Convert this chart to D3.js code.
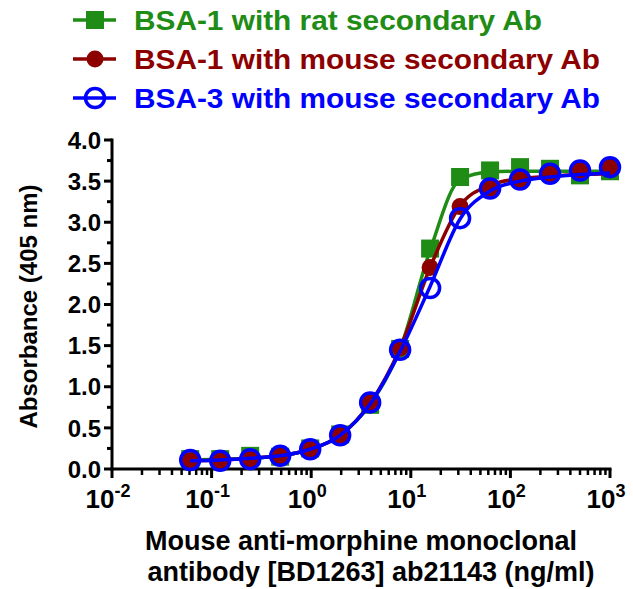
<!DOCTYPE html>
<html>
<head>
<meta charset="utf-8">
<script src="https://cdn.jsdelivr.net/npm/d3@7/dist/d3.min.js"></script>
<style>
  html, body { margin: 0; padding: 0; background: #fff; }
  svg { display: block; }
  text { font-family: "Liberation Sans", Arial, Helvetica, sans-serif; font-weight: bold; }
</style>
</head>
<body>
<svg id="chart" width="633" height="589"></svg>
<script>
// Antibody concentrations (ng/ml), two-fold dilution series
const concentrations = [0.061, 0.122, 0.244, 0.488, 0.977, 1.953, 3.906, 7.8125, 15.625, 31.25, 62.5, 125, 250, 500, 1000];

// Measured absorbance at 405 nm
const bsa1Rat   = [0.12, 0.12, 0.16, 0.15, 0.25, 0.42, 0.78, 1.46, 2.68, 3.55, 3.63, 3.67, 3.65, 3.57, 3.62];
const bsa1Mouse = [0.10, 0.10, 0.12, 0.16, 0.24, 0.41, 0.81, 1.47, 2.45, 3.19, 3.41, 3.52, 3.59, 3.63, 3.67];
const bsa3Mouse = [0.11, 0.10, 0.12, 0.16, 0.24, 0.41, 0.81, 1.45, 2.20, 3.05, 3.41, 3.52, 3.59, 3.63, 3.67];

// Fitted response curves, evaluated at the same concentrations
const fitRat    = [0.11, 0.12, 0.13, 0.16, 0.24, 0.41, 0.79, 1.46, 2.66, 3.52, 3.61, 3.62, 3.62, 3.62, 3.62];
const fitMouse1 = [0.10, 0.11, 0.13, 0.16, 0.24, 0.41, 0.80, 1.47, 2.45, 3.20, 3.45, 3.53, 3.56, 3.58, 3.59];
const fitMouse3 = [0.10, 0.11, 0.13, 0.16, 0.24, 0.41, 0.79, 1.43, 2.22, 3.04, 3.38, 3.50, 3.55, 3.58, 3.60];

const seriesNames = ["BSA-1 with rat secondary Ab", "BSA-1 with mouse secondary Ab", "BSA-3 with mouse secondary Ab"];
const seriesColors = ["#1f8c16", "#8c0000", "#0000ff"];

const xDomain = [0.01, 1000];
const yDomain = [0, 4];
const yTicks = [0, 0.5, 1, 1.5, 2, 2.5, 3, 3.5, 4];
const xExponents = [-2, -1, 0, 1, 2, 3];

const svg = d3.select("#chart");

const x = d3.scaleLog().domain(xDomain).range([112, 610]);
const y = d3.scaleLinear().domain(yDomain).range([469, 140]);

// ---- axes ----
const axisColor = "#000";

// Y axis: major ticks every 0.5, minor ticks halfway between
const yMinor = d3.range(0.25, 4, 0.5);
const gy = svg.append("g").attr("transform", `translate(${x.range()[0]},0)`);
gy.append("line").attr("x1", 0).attr("x2", 0).attr("y1", y(0) + 1.5).attr("y2", y(4) - 1.5)
  .attr("stroke", axisColor).attr("stroke-width", 3);
gy.selectAll("line.major").data(yTicks).join("line").attr("class", "major")
  .attr("x1", -8).attr("x2", 0).attr("y1", d => y(d)).attr("y2", d => y(d))
  .attr("stroke", axisColor).attr("stroke-width", 3);
gy.selectAll("line.minor").data(yMinor).join("line").attr("class", "minor")
  .attr("x1", -5).attr("x2", 0).attr("y1", d => y(d)).attr("y2", d => y(d))
  .attr("stroke", axisColor).attr("stroke-width", 3);
gy.selectAll("text").data(yTicks).join("text")
  .attr("x", -11).attr("y", d => y(d)).attr("dy", "0.36em")
  .attr("text-anchor", "end").attr("font-size", 24).attr("fill", "#000")
  .text(d => d3.format(".1f")(d));

// X axis: decades with 2..9 minor ticks
const xMinor = [];
xExponents.slice(0, -1).forEach(e => { for (let k = 2; k <= 9; k++) xMinor.push(k * Math.pow(10, e)); });
const gx = svg.append("g").attr("transform", `translate(0,${y(0)})`);
gx.append("line").attr("x1", x.range()[0] - 1.5).attr("x2", x.range()[1] + 1.5).attr("y1", 0).attr("y2", 0)
  .attr("stroke", axisColor).attr("stroke-width", 3);
gx.selectAll("line.major").data(xExponents.map(e => Math.pow(10, e))).join("line").attr("class", "major")
  .attr("x1", d => x(d)).attr("x2", d => x(d)).attr("y1", 0).attr("y2", 9)
  .attr("stroke", axisColor).attr("stroke-width", 3);
gx.selectAll("line.minor").data(xMinor).join("line").attr("class", "minor")
  .attr("x1", d => x(d)).attr("x2", d => x(d)).attr("y1", 0).attr("y2", 6)
  .attr("stroke", axisColor).attr("stroke-width", 2.5);
const xl = gx.selectAll("text").data(xExponents).join("text")
  .attr("x", d => x(Math.pow(10, d)) - 4).attr("y", 39)
  .attr("text-anchor", "middle").attr("font-size", 26).attr("fill", "#000");
xl.append("tspan").text("10");
xl.append("tspan").attr("dy", -11).attr("font-size", 18).text(d => d);

// Axis titles
svg.append("text")
  .attr("transform", `translate(37,${(y(0) + y(4)) / 2 + 2}) rotate(-90)`)
  .attr("text-anchor", "middle").attr("font-size", 24).attr("fill", "#000")
  .text("Absorbance (405 nm)");
const xTitle = svg.append("text").attr("text-anchor", "middle").attr("font-size", 27).attr("fill", "#000");
xTitle.append("tspan").attr("x", (x.range()[0] + x.range()[1]) / 2).attr("y", 550).text("Mouse anti-morphine monoclonal");
xTitle.append("tspan").attr("x", (x.range()[0] + x.range()[1]) / 2 + 10).attr("y", 581).text("antibody [BD1263] ab21143 (ng/ml)");

// ---- data ----
const values = [bsa1Rat, bsa1Mouse, bsa3Mouse];
const fits = [fitRat, fitMouse1, fitMouse3];

const line = d3.line()
  .x(d => x(d[0])).y(d => y(d[1]))
  .curve(d3.curveMonotoneX);

const plot = svg.append("g");

// Curves and markers, drawn series by series so later series sit on top
values.forEach((vals, i) => {
  const color = seriesColors[i];
  plot.append("path")
    .datum(concentrations.map((c, j) => [c, fits[i][j]]))
    .attr("d", line).attr("fill", "none")
    .attr("stroke", color).attr("stroke-width", 3.5);
  const pts = concentrations.map((c, j) => [c, vals[j]]);
  if (i === 0) {
    plot.selectAll(null).data(pts).join("rect")
      .attr("x", d => x(d[0]) - 9).attr("y", d => y(d[1]) - 9)
      .attr("width", 18).attr("height", 18).attr("fill", color);
  } else if (i === 1) {
    plot.selectAll(null).data(pts).join("circle")
      .attr("cx", d => x(d[0])).attr("cy", d => y(d[1])).attr("r", 8.5)
      .attr("fill", color);
  } else {
    plot.selectAll(null).data(pts).join("circle")
      .attr("cx", d => x(d[0])).attr("cy", d => y(d[1])).attr("r", 9.5)
      .attr("fill", "none").attr("stroke", color).attr("stroke-width", 3.5);
  }
});

// ---- legend ----
const legend = svg.append("g");
const legendY = [20, 59, 98];
const legendWidths = [408, 466, 466];
seriesNames.forEach((name, i) => {
  const g = legend.append("g").attr("transform", `translate(0,${legendY[i]})`);
  const color = seriesColors[i];
  g.append("line").attr("x1", 73).attr("x2", 116).attr("y1", 0).attr("y2", 0)
    .attr("stroke", color).attr("stroke-width", 3.5);
  if (i === 0) {
    g.append("rect").attr("x", 86).attr("y", -9).attr("width", 18).attr("height", 18).attr("fill", color);
  } else if (i === 1) {
    g.append("circle").attr("cx", 95).attr("cy", 0).attr("r", 8.5).attr("fill", color);
  } else {
    g.append("circle").attr("cx", 95).attr("cy", 0).attr("r", 9.5)
      .attr("fill", "none").attr("stroke", color).attr("stroke-width", 3.5);
  }
  g.append("text").attr("x", 134).attr("y", 0).attr("dy", "0.36em")
    .attr("font-size", 28).attr("fill", color)
    .attr("textLength", legendWidths[i]).attr("lengthAdjust", "spacingAndGlyphs")
    .text(name);
});
</script>
</body>
</html>
